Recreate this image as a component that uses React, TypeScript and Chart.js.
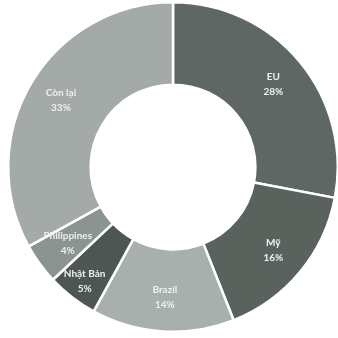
import React, { useEffect, useRef } from "react";
import { Chart, registerables } from "chart.js";

Chart.register(...registerables);

const labels = ["EU", "Mỹ", "Brazil", "Nhật Bản", "Philippines", "Còn lại"];
const values = [28, 16, 14, 5, 4, 33];
const colors = ["#5e6763", "#5a625e", "#a8b0ad", "#4e5654", "#8b9490", "#a3aaa7"];

const labelPlugin = {
  id: "sliceLabels",
  afterDatasetsDraw(chart: any) {
    const ctx = chart.ctx;
    const meta = chart.getDatasetMeta(0);
    const ds = chart.data.datasets[0];
    ctx.save();
    ctx.font = "bold 10px Lato, 'Open Sans', sans-serif";
    ctx.fillStyle = "#eef1f0";
    ctx.textAlign = "center";
    ctx.textBaseline = "middle";
    meta.data.forEach((arc: any, i: number) => {
      const a = (arc.startAngle + arc.endAngle) / 2;
      const r = arc.innerRadius + (arc.outerRadius - arc.innerRadius) * (i === 3 ? 0.75 : 0.58);
      const x = arc.x + Math.cos(a) * r;
      const y = arc.y + Math.sin(a) * r;
      ctx.fillText(String(chart.data.labels[i]), x, y - 7.5);
      ctx.fillText(ds.data[i] + "%", x, y + 7.5);
    });
    ctx.restore();
  },
};

export default function App() {
  const ref = useRef<HTMLCanvasElement | null>(null);
  useEffect(() => {
    if (!ref.current) return;
    const chart = new Chart(ref.current, {
      type: "doughnut",
      data: {
        labels,
        datasets: [
          {
            data: values,
            backgroundColor: colors,
            borderColor: "#ffffff",
            borderWidth: 2.5,
          },
        ],
      },
      options: {
        animation: false,
        responsive: false,
        maintainAspectRatio: false,
        cutout: "50%",
        layout: { padding: { left: 7, right: 1, top: 0, bottom: 4 } },
        plugins: {
          legend: { display: false },
          tooltip: { enabled: false },
        },
      },
      plugins: [labelPlugin],
    });
    return () => chart.destroy();
  }, []);
  return (
    <div style={{ position: "fixed", left: 0, top: 0, width: 338, height: 338, overflow: "hidden", background: "#fff" }}>
      <canvas ref={ref} width={340} height={338} style={{ display: "block" }} />
    </div>
  );
}
